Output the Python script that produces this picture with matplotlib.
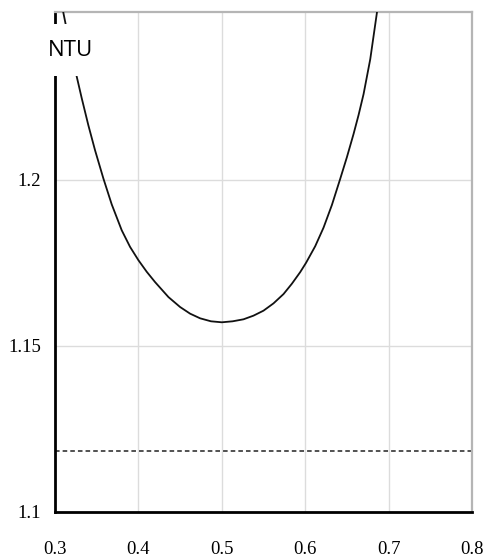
import matplotlib
matplotlib.use('Agg')
import matplotlib.pyplot as plt

# curve (x, NTU)
x_vals = [0.306, 0.310, 0.316, 0.325, 0.332, 0.340, 0.348, 0.358, 0.368, 0.380,
          0.390, 0.400, 0.410, 0.420, 0.436, 0.450, 0.462, 0.474, 0.487, 0.500,
          0.513, 0.526, 0.538, 0.550, 0.562, 0.574, 0.584, 0.594, 0.601, 0.612,
          0.622, 0.632, 0.642, 0.650, 0.658, 0.664, 0.670, 0.678, 0.686, 0.689]
ntu_vals = [1.257, 1.2503, 1.2428, 1.2322, 1.2246, 1.2164, 1.2089, 1.2004, 1.1926, 1.1848,
            1.1798, 1.1758, 1.1723, 1.1692, 1.1647, 1.1617, 1.1597, 1.1583, 1.1574, 1.1571,
            1.1574, 1.1580, 1.1591, 1.1606, 1.1628, 1.1656, 1.1687, 1.1722, 1.1750, 1.1800,
            1.1856, 1.1924, 1.2003, 1.2068, 1.2138, 1.2195, 1.2258, 1.2363, 1.2503, 1.256]
ref_level = 1.1183

x_ticks = [0.3, 0.4, 0.5, 0.6, 0.7, 0.8]
y_ticks = [1.1, 1.15, 1.2]
y_labels = ['1.1', '1.15', '1.2']

fig = plt.figure(figsize=(4.84, 5.59), dpi=100, facecolor='white')
ax = fig.add_axes([55 / 484, 47 / 559, 417 / 484, 500 / 559])

ax.plot(x_vals, ntu_vals, color='#111111', linewidth=1.3, zorder=3)
ax.axhline(ref_level, color='#222222', linewidth=1.1, linestyle=(0, (3, 2)), zorder=2)

ax.set_xlim(0.3, 0.8)
ax.set_ylim(1.1, 1.2505)
ax.set_xticks(x_ticks)
ax.set_xticklabels([f'{v:.1f}' for v in x_ticks])
ax.set_yticks(y_ticks)
ax.set_yticklabels(y_labels)

ax.grid(True, color='#dcdcdc', linewidth=1.0, zorder=0)
ax.tick_params(length=0, labelsize=13.5)
ax.tick_params(axis='x', pad=21)
ax.tick_params(axis='y', pad=10)
for lab in ax.get_xticklabels() + ax.get_yticklabels():
    lab.set_fontfamily('Liberation Serif')

for side in ('left', 'bottom'):
    ax.spines[side].set_color('black')
    ax.spines[side].set_linewidth(2.0)
for side in ('top', 'right'):
    ax.spines[side].set_color('#b5b5b5')
    ax.spines[side].set_linewidth(1.6)

# axis title sitting over the y-axis with a white box
fig.text(70 / 484, 1 - 50 / 559, 'NTU', ha='center', va='center',
         fontsize=16, family='Open Sans', color='black',
         bbox=dict(facecolor='white', edgecolor='none', pad=11), zorder=5)

fig.savefig('out.png', dpi=100, facecolor='white')
